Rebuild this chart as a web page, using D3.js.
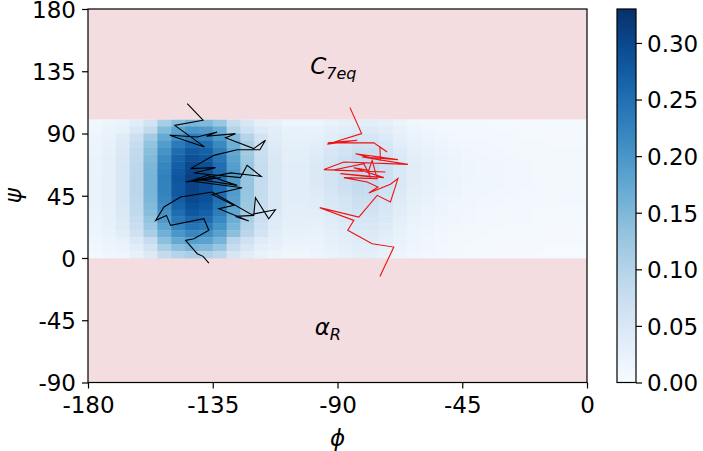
<!DOCTYPE html>
<html>
<head>
<meta charset="utf-8">
<title>phi/psi density with trajectories</title>
<script src="https://cdnjs.cloudflare.com/ajax/libs/d3/7.8.5/d3.min.js"></script>
<style>
  body { margin: 0; background: #fff; }
  svg text { font-family: "DejaVu Sans", sans-serif; fill: #000; }
</style>
</head>
<body>
<svg id="chart" width="703" height="451"></svg>
<script>

// ---- data ----
var xTicks = [-180, -135, -90, -45, 0];
var yTicks = [-90, -45, 0, 45, 90, 135, 180];
var cbTicks = [0, 0.05, 0.10, 0.15, 0.20, 0.25, 0.30];
var cbMax = 0.33;

// density bins: 5 deg in phi (-180..0) and 5 deg in psi (0..100); lower psi edge per row
var psiRows = [95, 90, 85, 80, 75, 70, 65, 60, 55, 50, 45, 40, 35, 30, 25, 20, 15, 10, 5, 0];
var density = [
  [.011,.016,.021,.037,.062,.113,.139,.153,.148,.128,.077,.052,.032,.025,.018,.018,.018,.024,.029,.034,.034,.028,.020,.014,.011,.009,.007,.006,.005,.005,.004,.004,.004,.003,.003,.003],
  [.014,.021,.027,.048,.081,.146,.181,.198,.192,.166,.100,.068,.042,.033,.023,.023,.023,.030,.036,.043,.043,.035,.025,.018,.014,.011,.009,.008,.007,.006,.006,.005,.005,.004,.004,.004],
  [.017,.024,.040,.070,.118,.171,.211,.232,.224,.194,.146,.099,.061,.038,.027,.027,.029,.037,.045,.053,.053,.043,.031,.022,.017,.014,.011,.009,.008,.007,.007,.006,.006,.005,.005,.005],
  [.019,.027,.044,.078,.132,.191,.236,.259,.251,.217,.163,.111,.068,.043,.031,.031,.034,.044,.053,.064,.063,.052,.037,.026,.021,.016,.013,.011,.010,.009,.008,.007,.007,.006,.006,.006],
  [.020,.029,.047,.084,.141,.205,.253,.278,.268,.232,.175,.118,.073,.046,.033,.033,.039,.051,.061,.073,.072,.060,.043,.030,.024,.019,.015,.013,.011,.010,.009,.009,.008,.007,.007,.007],
  [.021,.030,.049,.087,.147,.214,.264,.290,.280,.242,.182,.124,.076,.048,.034,.034,.043,.056,.068,.081,.080,.066,.047,.033,.026,.021,.017,.014,.012,.011,.010,.009,.008,.008,.008,.008],
  [.022,.031,.051,.090,.152,.221,.272,.299,.289,.250,.188,.127,.078,.049,.035,.035,.046,.060,.072,.086,.085,.070,.050,.035,.028,.022,.018,.015,.013,.012,.011,.010,.009,.008,.008,.008],
  [.022,.032,.052,.092,.155,.225,.278,.305,.295,.255,.192,.130,.080,.050,.036,.036,.046,.060,.072,.086,.085,.070,.050,.035,.028,.022,.018,.015,.013,.012,.011,.010,.009,.008,.008,.008],
  [.022,.032,.052,.092,.155,.227,.282,.310,.298,.256,.192,.130,.080,.050,.036,.036,.046,.060,.072,.086,.085,.070,.050,.035,.028,.022,.018,.015,.013,.012,.011,.010,.009,.008,.008,.008],
  [.022,.032,.052,.092,.155,.225,.278,.305,.295,.255,.192,.130,.080,.050,.036,.036,.044,.058,.069,.083,.082,.067,.048,.034,.027,.021,.017,.014,.012,.012,.011,.010,.009,.008,.008,.008],
  [.022,.032,.052,.092,.155,.225,.278,.305,.295,.255,.192,.130,.080,.050,.036,.036,.041,.054,.065,.077,.077,.063,.045,.032,.025,.020,.016,.014,.012,.011,.010,.009,.008,.007,.007,.007],
  [.022,.031,.051,.090,.152,.221,.272,.299,.289,.250,.188,.127,.078,.049,.035,.035,.039,.050,.060,.072,.071,.059,.042,.029,.024,.018,.015,.013,.011,.010,.009,.008,.008,.007,.007,.007],
  [.021,.030,.049,.087,.147,.214,.264,.290,.280,.242,.182,.124,.076,.048,.034,.034,.036,.047,.056,.067,.066,.055,.039,.027,.022,.017,.014,.012,.010,.009,.009,.008,.007,.006,.006,.006],
  [.020,.029,.047,.084,.141,.205,.253,.278,.268,.232,.175,.118,.073,.046,.033,.033,.033,.043,.052,.062,.061,.050,.036,.025,.020,.016,.013,.011,.009,.009,.008,.007,.006,.006,.006,.006],
  [.019,.028,.045,.079,.133,.194,.239,.262,.254,.219,.165,.112,.069,.043,.031,.031,.030,.039,.047,.056,.055,.046,.033,.023,.018,.014,.012,.010,.008,.008,.007,.007,.006,.005,.005,.005],
  [.018,.026,.042,.074,.124,.180,.222,.244,.236,.204,.154,.104,.064,.040,.029,.029,.027,.035,.042,.050,.049,.041,.029,.020,.016,.013,.010,.009,.008,.007,.006,.006,.005,.005,.005,.005],
  [.016,.023,.037,.066,.112,.162,.200,.220,.212,.184,.138,.094,.058,.036,.026,.026,.024,.031,.037,.045,.044,.036,.026,.018,.015,.011,.009,.008,.007,.006,.006,.005,.005,.004,.004,.004],
  [.014,.020,.026,.046,.077,.140,.172,.189,.183,.158,.095,.064,.040,.031,.022,.022,.022,.028,.034,.040,.040,.033,.024,.016,.013,.010,.008,.007,.006,.006,.005,.005,.004,.004,.004,.004],
  [.011,.016,.021,.037,.062,.113,.139,.153,.148,.128,.077,.052,.032,.025,.018,.018,.019,.025,.030,.036,.036,.029,.021,.015,.012,.009,.008,.006,.005,.005,.005,.004,.004,.003,.003,.003],
  [.008,.012,.015,.026,.045,.081,.100,.110,.106,.092,.055,.037,.023,.018,.013,.013,.017,.022,.026,.031,.031,.025,.018,.013,.010,.008,.006,.005,.005,.004,.004,.004,.003,.003,.003,.003]
];

// trajectory in C7eq basin (black), [phi, psi]
var trajBlack = [
  [-144.2,111.6],[-138.5,99.6],[-148.7,95.9],[-138.0,80.3],[-150.5,88.7],[-140.6,87.5],
  [-133.4,91.1],[-137.3,88.0],[-126.8,89.9],[-130.4,87.0],[-120.2,79.1],[-116.0,85.1],
  [-118.0,78.3],[-126.2,78.3],[-134.6,74.2],[-143.0,64.6],[-134.0,65.3],[-141.8,61.5],
  [-125.0,58.1],[-122.6,67.0],[-117.5,59.0],[-128.6,61.5],[-144.8,54.9],[-132.2,58.1],
  [-139.4,56.6],[-126.2,52.5],[-137.0,59.8],[-143.0,55.7],[-124.4,50.8],[-135.2,46.0],
  [-127.4,38.1],[-132.8,35.6],[-122.0,26.7],[-126.8,30.1],[-120.2,30.8],[-119.6,43.6],
  [-114.8,28.4],[-112.4,34.9],[-121.1,31.5],[-135.2,47.7],[-146.6,44.1],[-152.6,36.9],
  [-155.6,27.2],[-151.7,30.8],[-150.2,23.6],[-138.2,28.4],[-136.4,20.0],[-141.8,13.9],
  [-144.8,12.7],[-140.6,3.1],[-138.5,1.2],[-136.4,-3.7]
];

// second trajectory (red), [phi, psi]
var trajRed = [
  [-85.5,108.7],[-81.3,89.9],[-93.7,82.2],[-82.9,85.1],[-93.5,83.2],[-76.9,83.2],
  [-72.1,76.6],[-74.7,80.3],[-74.5,70.6],[-83.5,75.4],[-68.2,71.1],[-81.1,73.0],
  [-64.6,67.7],[-87.7,69.4],[-94.9,63.9],[-72.7,62.2],[-91.9,63.4],[-80.5,68.2],
  [-78.1,58.6],[-88.9,61.0],[-73.3,58.1],[-84.1,65.3],[-78.7,63.4],[-77.5,70.6],
  [-75.7,57.4],[-87.7,58.1],[-79.3,54.9],[-75.4,51.3],[-78.7,47.0],[-70.9,53.3],
  [-68.2,57.4],[-70.9,40.5],[-75.7,45.3],[-82.3,29.6],[-96.4,36.4],[-84.1,27.2],
  [-86.3,20.0],[-77.5,10.3],[-69.7,7.9],[-74.7,-13.3]
];

// ---- layout ----
var svg = d3.select("#chart");
var fontSize = 23;

var x = d3.scaleLinear().domain([-180, 0]).range([88, 587]);
var y = d3.scaleLinear().domain([-90, 180]).range([382.5, 9]);
var color = d3.scaleSequential(d3.interpolateBlues).domain([0, cbMax]);

var plot = svg.append("g");

// pink bands outside the sampled psi window
plot.append("rect")
  .attr("x", x(-180)).attr("y", y(180))
  .attr("width", x(0) - x(-180)).attr("height", y(100) - y(180))
  .attr("fill", "#f3dde0");
plot.append("rect")
  .attr("x", x(-180)).attr("y", y(0))
  .attr("width", x(0) - x(-180)).attr("height", y(-90) - y(0))
  .attr("fill", "#f3dde0");

// heatmap cells
var phiStarts = d3.range(-180, 0, 5);
var cells = [];
density.forEach(function(row, i) {
  row.forEach(function(v, j) {
    cells.push({phi: phiStarts[j], psi: psiRows[i], v: v});
  });
});
plot.append("g").selectAll("rect")
  .data(cells)
  .enter()
  .append("rect")
  .attr("x", function(d) { return x(d.phi); })
  .attr("y", function(d) { return y(d.psi + 5); })
  .attr("width", function(d) { return x(d.phi + 5) - x(d.phi) + 0.4; })
  .attr("height", function(d) { return y(d.psi) - y(d.psi + 5) + 0.4; })
  .attr("fill", function(d) { return color(d.v); });

// trajectories
var line = d3.line()
  .x(function(d) { return x(d[0]); })
  .y(function(d) { return y(d[1]); });

plot.append("path").datum(trajBlack)
  .attr("d", line)
  .attr("fill", "none").attr("stroke", "#000").attr("stroke-width", 1.1);
plot.append("path").datum(trajRed)
  .attr("d", line)
  .attr("fill", "none").attr("stroke", "#ee1111").attr("stroke-width", 1.1);

// region labels
var c7 = plot.append("text")
  .attr("x", x(-91.5)).attr("y", y(133))
  .attr("text-anchor", "middle")
  .style("font-size", fontSize + "px").style("font-style", "italic");
c7.append("tspan").text("C");
c7.append("tspan").attr("dy", 5).style("font-size", "16px").text("7eq");

var aR = plot.append("text")
  .attr("x", x(-93.5)).attr("y", y(-56))
  .attr("text-anchor", "middle")
  .style("font-size", fontSize + "px").style("font-style", "italic");
aR.append("tspan").text("\u03b1");
aR.append("tspan").attr("dy", 5).style("font-size", "16px").text("R");

// frame
plot.append("rect")
  .attr("x", x(-180)).attr("y", y(180))
  .attr("width", x(0) - x(-180)).attr("height", y(-90) - y(180))
  .attr("fill", "none").attr("stroke", "#000").attr("stroke-width", 1.2);

// axes
var fmt = function(d) { return String(d); };
var xAxis = svg.append("g")
  .attr("transform", "translate(0," + y(-90) + ")")
  .call(d3.axisBottom(x).tickValues(xTicks).tickFormat(fmt).tickSize(6).tickPadding(8));
var yAxis = svg.append("g")
  .attr("transform", "translate(" + x(-180) + ",0)")
  .call(d3.axisLeft(y).tickValues(yTicks).tickFormat(fmt).tickSize(6).tickPadding(6));
[xAxis, yAxis].forEach(function(a) {
  a.select(".domain").remove();
  a.selectAll("line").attr("stroke", "#000").attr("stroke-width", 1.2);
  a.selectAll("text").style("font-size", fontSize + "px").attr("font-family", null);
});
yAxis.selectAll("text").attr("dy", "0.36em");

svg.append("text")
  .attr("x", x(-90)).attr("y", 446)
  .attr("text-anchor", "middle")
  .style("font-size", fontSize + "px").style("font-style", "italic")
  .text("\u03d5");
svg.append("text")
  .attr("transform", "translate(21," + y(45) + ") rotate(-90)")
  .attr("text-anchor", "middle")
  .style("font-size", fontSize + "px").style("font-style", "italic")
  .text("\u03c8");

// colorbar
var cbX = 617, cbW = 19;
var cb = d3.scaleLinear().domain([0, cbMax]).range([382.5, 9]);
var grad = svg.append("defs").append("linearGradient")
  .attr("id", "cbgrad").attr("x1", 0).attr("y1", 1).attr("x2", 0).attr("y2", 0);
d3.range(0, 1.0001, 0.1).forEach(function(t) {
  grad.append("stop").attr("offset", t).attr("stop-color", d3.interpolateBlues(t));
});
svg.append("rect")
  .attr("x", cbX).attr("y", cb(cbMax))
  .attr("width", cbW).attr("height", cb(0) - cb(cbMax))
  .attr("fill", "url(#cbgrad)")
  .attr("stroke", "#000").attr("stroke-width", 1.2);
var cbAxis = svg.append("g")
  .attr("transform", "translate(" + (cbX + cbW) + ",0)")
  .call(d3.axisRight(cb).tickValues(cbTicks).tickFormat(d3.format(".2f")).tickSize(6).tickPadding(5));
cbAxis.select(".domain").remove();
cbAxis.selectAll("line").attr("stroke", "#000").attr("stroke-width", 1.2);
cbAxis.selectAll("text").style("font-size", fontSize + "px").attr("font-family", null).attr("dy", "0.36em");

</script>
</body>
</html>
